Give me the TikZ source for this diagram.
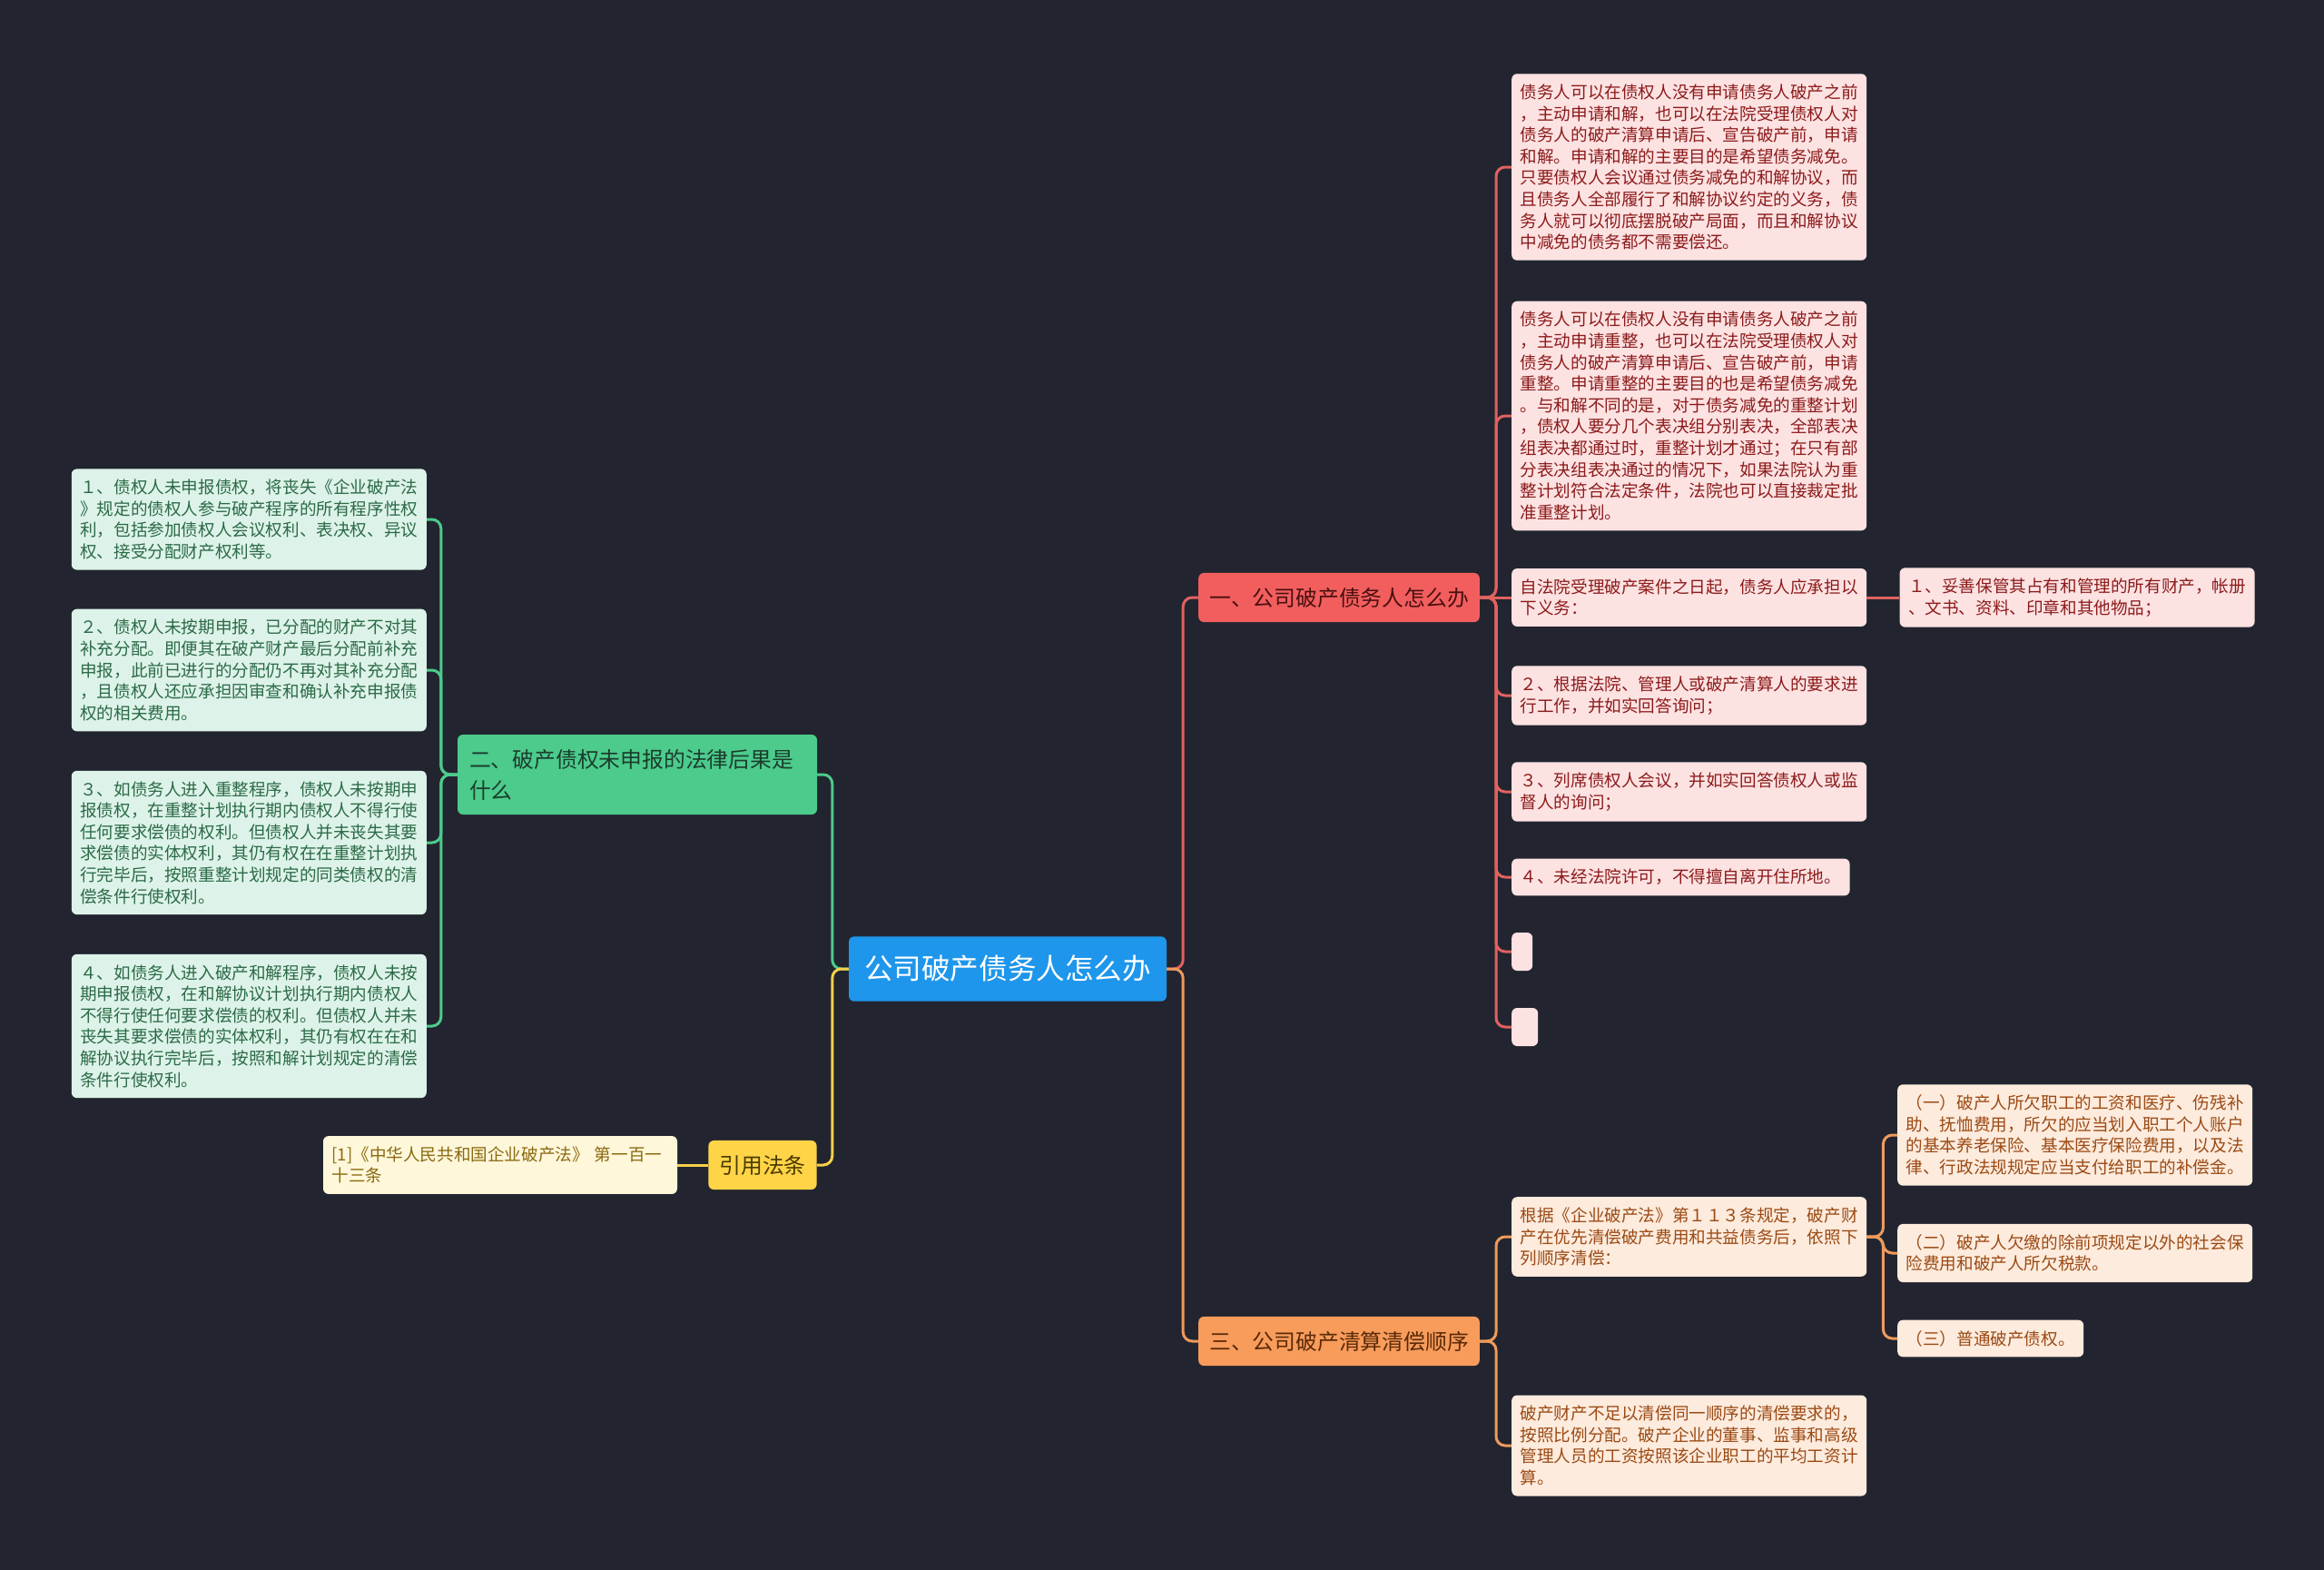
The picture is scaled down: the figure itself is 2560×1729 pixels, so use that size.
\documentclass[tikz,border=0pt]{standalone}
\usepackage{fontspec}
\setmainfont{Noto Sans CJK SC}
\usetikzlibrary{positioning}
\definecolor{clrBg}{HTML}{22252F}
\definecolor{clrRoot}{HTML}{1E96EB}
\definecolor{clrRedMain}{HTML}{F25E5E}
\definecolor{clrRedMainText}{HTML}{4A1010}
\definecolor{clrRedLeaf}{HTML}{FDE2E2}
\definecolor{clrRedLeafText}{HTML}{8C1B1B}
\definecolor{clrRedLine}{HTML}{E0625F}
\definecolor{clrGreenMain}{HTML}{4CCB8C}
\definecolor{clrGreenMainText}{HTML}{1B3D2C}
\definecolor{clrGreenLeaf}{HTML}{DDF3E9}
\definecolor{clrGreenLeafText}{HTML}{2C6A47}
\definecolor{clrYellowMain}{HTML}{FFD447}
\definecolor{clrYellowMainText}{HTML}{4A3A00}
\definecolor{clrYellowLeaf}{HTML}{FFF7DA}
\definecolor{clrYellowLeafText}{HTML}{8A6A10}
\definecolor{clrYellowLine}{HTML}{F5CF4A}
\definecolor{clrOrangeMain}{HTML}{F89C5C}
\definecolor{clrOrangeMainText}{HTML}{5A2A08}
\definecolor{clrOrangeLeaf}{HTML}{FDEBDD}
\definecolor{clrOrangeLeafText}{HTML}{9B4A14}
\definecolor{clrOrangeLine}{HTML}{EE9A5C}
\newcommand{\leaffont}{\fontsize{18.6}{23.6}\selectfont}
\newcommand{\mainfont}{\fontsize{23.8}{34}\selectfont}
\newcommand{\rootfont}{\fontsize{31.6}{38}\selectfont}

\begin{document}
\begin{tikzpicture}[x=1pt,y=-1pt,
    every node/.style={
        font=\leaffont, align=left, rounded corners=6pt,
        inner xsep=9.5pt, inner ysep=11.5pt
    },
    rootbox/.style={fill=clrRoot, text=white, font=\rootfont,
        inner xsep=17pt, inner ysep=21pt},
    mainbox/.style={font=\mainfont, inner xsep=12pt, inner ysep=16pt},
    redbranch/.style={mainbox, fill=clrRedMain, text=clrRedMainText},
    greenbranch/.style={mainbox, fill=clrGreenMain, text=clrGreenMainText},
    yellowbranch/.style={mainbox, fill=clrYellowMain, text=clrYellowMainText},
    orangebranch/.style={mainbox, fill=clrOrangeMain, text=clrOrangeMainText},
    redleaf/.style={fill=clrRedLeaf, text=clrRedLeafText, anchor=west},
    greenleaf/.style={fill=clrGreenLeaf, text=clrGreenLeafText, anchor=east},
    yellowleaf/.style={fill=clrYellowLeaf, text=clrYellowLeafText},
    orangeleaf/.style={fill=clrOrangeLeaf, text=clrOrangeLeafText, anchor=west},
    emptyleaf/.style={redleaf, minimum height=42pt},
    link/.style={line width=3pt, rounded corners=10pt},
    elbowright/.style={to path={-- ++(18,0) |- (\tikztotarget)}},
    elbowleft/.style={to path={-- ++(-18,0) |- (\tikztotarget)}}
]
\useasboundingbox (0,0) rectangle (2560,1729);
\fill[clrBg] (0,0) rectangle (2560,1729);

\node[rootbox] (root) at (1110,1067) {公司破产债务人怎么办};
\node[redbranch] (b1) at (1475,658) {一、公司破产债务人怎么办};
\node[orangebranch] (b3) at (1475,1477) {三、公司破产清算清偿顺序};
\node[greenbranch, text width=370pt, inner xsep=13pt] (b2) at (702,853) {二、破产债权未申报的法律后果是\\什么};
\node[yellowbranch] (cite) at (840,1283) {引用法条};
\node[yellowleaf, text width=371pt, left=34pt of cite] (citeleaf) {[1]《中华人民共和国企业破产法》 第一百一\\十三条};

\node[redleaf] (r1) at (1665,184) {债务人可以在债权人没有申请债务人破产之前\\，主动申请和解，也可以在法院受理债权人对\\债务人的破产清算申请后、宣告破产前，申请\\和解。申请和解的主要目的是希望债务减免。\\只要债权人会议通过债务减免的和解协议，而\\且债务人全部履行了和解协议约定的义务，债\\务人就可以彻底摆脱破产局面，而且和解协议\\中减免的债务都不需要偿还。};
\node[redleaf] (r2) at (1665,458) {债务人可以在债权人没有申请债务人破产之前\\，主动申请重整，也可以在法院受理债权人对\\债务人的破产清算申请后、宣告破产前，申请\\重整。申请重整的主要目的也是希望债务减免\\。与和解不同的是，对于债务减免的重整计划\\，债权人要分几个表决组分别表决，全部表决\\组表决都通过时，重整计划才通过；在只有部\\分表决组表决通过的情况下，如果法院认为重\\整计划符合法定条件，法院也可以直接裁定批\\准重整计划。};
\node[redleaf] (r3) at (1665,658) {自法院受理破产案件之日起，债务人应承担以\\下义务：};
\node[redleaf, right=36pt of r3] (r3a) {１、妥善保管其占有和管理的所有财产，帐册\\、文书、资料、印章和其他物品；};
\node[redleaf] (r4) at (1665,766) {２、根据法院、管理人或破产清算人的要求进\\行工作，并如实回答询问；};
\node[redleaf] (r5) at (1665,872) {３、列席债权人会议，并如实回答债权人或监\\督人的询问；};
\node[redleaf] (r6) at (1665,966) {４、未经法院许可，不得擅自离开住所地。};
\node[emptyleaf, minimum width=23pt] (r7) at (1665,1048) {};
\node[emptyleaf, minimum width=29pt] (r8) at (1665,1131) {};

\node[orangeleaf] (o1) at (1665,1362) {根据《企业破产法》第１１３条规定，破产财\\产在优先清偿破产费用和共益债务后，依照下\\列顺序清偿：};
\node[orangeleaf] (o2) at (1665,1592) {破产财产不足以清偿同一顺序的清偿要求的，\\按照比例分配。破产企业的董事、监事和高级\\管理人员的工资按照该企业职工的平均工资计\\算。};
\node[orangeleaf] (o1a) at (2090,1250) {（一）破产人所欠职工的工资和医疗、伤残补\\助、抚恤费用，所欠的应当划入职工个人账户\\的基本养老保险、基本医疗保险费用，以及法\\律、行政法规规定应当支付给职工的补偿金。};
\node[orangeleaf] (o1b) at (2090,1380) {（二）破产人欠缴的除前项规定以外的社会保\\险费用和破产人所欠税款。};
\node[orangeleaf] (o1c) at (2090,1474) {（三）普通破产债权。};

\node[greenleaf] (g1) at (470,572) {１、债权人未申报债权，将丧失《企业破产法\\》规定的债权人参与破产程序的所有程序性权\\利，包括参加债权人会议权利、表决权、异议\\权、接受分配财产权利等。};
\node[greenleaf] (g2) at (470,738) {２、债权人未按期申报，已分配的财产不对其\\补充分配。即便其在破产财产最后分配前补充\\申报，此前已进行的分配仍不再对其补充分配\\，且债权人还应承担因审查和确认补充申报债\\权的相关费用。};
\node[greenleaf] (g3) at (470,928) {３、如债务人进入重整程序，债权人未按期申\\报债权，在重整计划执行期内债权人不得行使\\任何要求偿债的权利。但债权人并未丧失其要\\求偿债的实体权利，其仍有权在在重整计划执\\行完毕后，按照重整计划规定的同类债权的清\\偿条件行使权利。};
\node[greenleaf] (g4) at (470,1130) {４、如债务人进入破产和解程序，债权人未按\\期申报债权，在和解协议计划执行期内债权人\\不得行使任何要求偿债的权利。但债权人并未\\丧失其要求偿债的实体权利，其仍有权在在和\\解协议执行完毕后，按照和解计划规定的清偿\\条件行使权利。};

\draw[link, clrRedLine]
(root.east) edge[elbowright] (b1.west)
(b1.east) edge[elbowright] (r1.west)
(b1.east) edge[elbowright] (r2.west)
(b1.east) edge (r3.west)
(b1.east) edge[elbowright] (r4.west)
(b1.east) edge[elbowright] (r5.west)
(b1.east) edge[elbowright] (r6.west)
(b1.east) edge[elbowright] (r7.west)
(b1.east) edge[elbowright] (r8.west)
(r3.east) edge (r3a.west);
\draw[link, clrOrangeLine]
(root.east) edge[elbowright] (b3.west)
(b3.east) edge[elbowright] (o1.west)
(b3.east) edge[elbowright] (o2.west)
(o1.east) edge[elbowright] (o1a.west)
(o1.east) edge[elbowright] (o1b.west)
(o1.east) edge[elbowright] (o1c.west);
\draw[link, clrGreenMain]
(root.west) edge[elbowleft] (b2.east)
(b2.west) edge[elbowleft] (g1.east)
(b2.west) edge[elbowleft] (g2.east)
(b2.west) edge[elbowleft] (g3.east)
(b2.west) edge[elbowleft] (g4.east);
\draw[link, clrYellowLine]
(root.west) edge[elbowleft] (cite.east)
(cite.west) edge (citeleaf.east);
\end{tikzpicture}
\end{document}
